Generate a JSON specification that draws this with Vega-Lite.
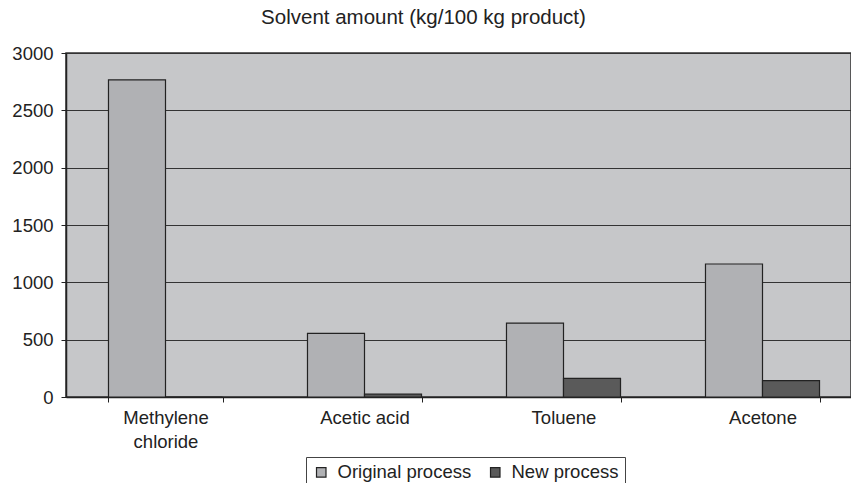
{
  "$schema": "https://vega.github.io/schema/vega-lite/v6.json",
  "autosize": "none",
  "width": 785,
  "height": 344,
  "padding": {"left": 66, "top": 53, "right": 0, "bottom": 86},
  "background": "white",
  "title": {"text": "Solvent amount (kg/100 kg product)", "fontSize": 20.5, "fontWeight": "normal", "font": "Liberation Sans", "color": "#222", "offset": 16, "dx": -35},
  "config": {
    "view": {"fill": "#c6c7c9", "stroke": "#333", "strokeWidth": 1.5},
    "font": "Liberation Sans"
  },
  "data": {"values": [
    {"solvent": "Methylene chloride", "process": "Original process", "amount": 2765},
    {"solvent": "Methylene chloride", "process": "New process", "amount": 0},
    {"solvent": "Acetic acid", "process": "Original process", "amount": 555},
    {"solvent": "Acetic acid", "process": "New process", "amount": 25},
    {"solvent": "Toluene", "process": "Original process", "amount": 645},
    {"solvent": "Toluene", "process": "New process", "amount": 163},
    {"solvent": "Acetone", "process": "Original process", "amount": 1160},
    {"solvent": "Acetone", "process": "New process", "amount": 142}
  ]},
  "mark": {"type": "bar", "stroke": "#222", "strokeWidth": 1.2},
  "encoding": {
    "x": {"field": "solvent", "type": "nominal", "sort": ["Methylene chloride", "Acetic acid", "Toluene", "Acetone"],
      "scale": {"range": [0, 796], "paddingInner": 0.427, "paddingOuter": 0.2135},
      "axis": {"title": null, "labelAngle": 0, "labelFontSize": 18.5, "labelColor": "#222", "labelPadding": 6, "labelLineHeight": 24,
        "labelExpr": "datum.label == 'Methylene chloride' ? ['Methylene', 'chloride'] : datum.label",
        "tickBand": "extent", "tickColor": "#222", "tickSize": 5, "domainColor": "#222", "domainWidth": 1.5, "grid": false}},
    "xOffset": {"field": "process", "type": "nominal", "sort": ["Original process", "New process"], "scale": {"paddingInner": 0, "paddingOuter": 0}},
    "y": {"field": "amount", "type": "quantitative", "scale": {"domain": [0, 3000]},
      "axis": {"title": null, "format": "d", "values": [0, 500, 1000, 1500, 2000, 2500, 3000], "labelFontSize": 18.5, "labelColor": "#222", "labelPadding": 8,
        "tickColor": "#222", "tickSize": 5, "domainColor": "#222", "domainWidth": 1.5, "gridColor": "#333", "gridWidth": 1.2, "gridOpacity": 1}},
    "fill": {"field": "process", "type": "nominal", "sort": ["Original process", "New process"],
      "scale": {"domain": ["Original process", "New process"], "range": ["#b0b1b4", "#5a5a5a"]},
      "legend": {"title": null, "orient": "none", "legendX": 240, "legendY": 404, "direction": "horizontal", "labelFontSize": 18.5, "labelColor": "#222",
        "symbolType": "square", "symbolSize": 90, "symbolStrokeColor": "#222", "symbolStrokeWidth": 1.2,
        "strokeColor": "#444", "padding": 6, "columnPadding": 14, "labelOffset": 7}}
  }
}
